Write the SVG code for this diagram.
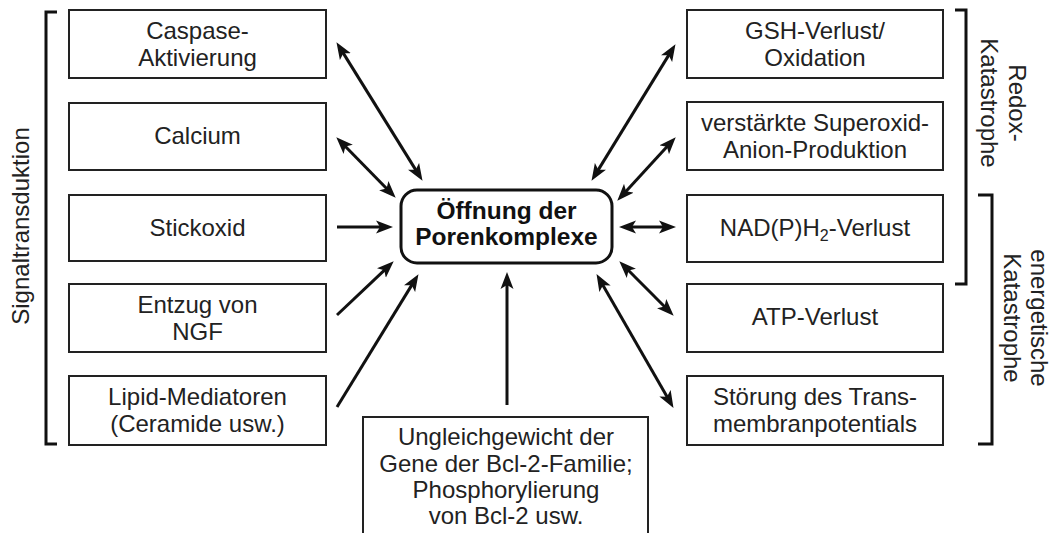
<svg xmlns="http://www.w3.org/2000/svg" width="1052" height="533" viewBox="0 0 1052 533">
<style>
.box{fill:#fff;stroke:#222;stroke-width:2}
.t{font-family:"Liberation Sans",Arial,sans-serif;font-size:24px;fill:#222;text-anchor:middle}
.b{font-weight:bold;fill:#111;font-size:24.5px}
.con{stroke:#111;stroke-width:3;fill:none}
.br{stroke:#111;stroke-width:3;fill:none}
</style>
<defs>
<marker id="ah" markerUnits="userSpaceOnUse" markerWidth="18" markerHeight="14" viewBox="0 0 18 14" refX="5" refY="7" orient="auto-start-reverse">
<path d="M0,0.5 L17,7 L0,13.5 L4,7 Z" fill="#111"/>
</marker>
</defs>
<rect width="1052" height="533" fill="#fff"/>

<g id="brackets">
<path class="br" d="M57,12 H46 V444 H57"/>
<path class="br" d="M955,10 H966 V284 H955"/>
<path class="br" d="M978,195 H992 V444 H978"/>
<text class="t" transform="translate(29,226) rotate(-90)">Signaltransduktion</text>
<text class="t" transform="translate(1009,103) rotate(90)"><tspan x="0" y="0">Redox-</tspan><tspan x="0" y="28">Katastrophe</tspan></text>
<text class="t" transform="translate(1031,318) rotate(90)"><tspan x="0" y="0">energetische</tspan><tspan x="0" y="27">Katastrophe</tspan></text>
</g>

<g id="n-caspase">
<rect class="box" x="69" y="10" width="257" height="68"/>
<text class="t" x="197.5" y="39">Caspase-</text>
<text class="t" x="197.5" y="66">Aktivierung</text>
</g>
<g id="n-calcium">
<rect class="box" x="69" y="103" width="257" height="67"/>
<text class="t" x="197.5" y="144">Calcium</text>
</g>
<g id="n-stickoxid">
<rect class="box" x="69" y="195" width="257" height="66"/>
<text class="t" x="197.5" y="236">Stickoxid</text>
</g>
<g id="n-ngf">
<rect class="box" x="69" y="284" width="257" height="68"/>
<text class="t" x="197.5" y="313">Entzug von</text>
<text class="t" x="197.5" y="340">NGF</text>
</g>
<g id="n-lipid">
<rect class="box" x="69" y="376" width="257" height="69"/>
<text class="t" x="197.5" y="405">Lipid-Mediatoren</text>
<text class="t" x="197.5" y="432">(Ceramide usw.)</text>
</g>

<g id="n-gsh">
<rect class="box" x="687" y="10" width="256" height="68"/>
<text class="t" x="815" y="39">GSH-Verlust/</text>
<text class="t" x="815" y="66">Oxidation</text>
</g>
<g id="n-superoxid">
<rect class="box" x="687" y="102" width="256" height="68"/>
<text class="t" x="815" y="131">verstärkte Superoxid-</text>
<text class="t" x="815" y="158">Anion-Produktion</text>
</g>
<g id="n-nad">
<rect class="box" x="687" y="195" width="256" height="67"/>
<text class="t" x="815" y="236">NAD(P)H<tspan font-size="16" dy="5">2</tspan><tspan dy="-5">-Verlust</tspan></text>
</g>
<g id="n-atp">
<rect class="box" x="687" y="284" width="256" height="68"/>
<text class="t" x="815" y="325">ATP-Verlust</text>
</g>
<g id="n-stoerung">
<rect class="box" x="687" y="376" width="256" height="69"/>
<text class="t" x="815" y="405">Störung des Trans-</text>
<text class="t" x="815" y="432">membranpotentials</text>
</g>

<g id="n-center">
<rect x="401" y="190" width="211" height="73" rx="16" ry="16" fill="#fff" stroke="#111" stroke-width="3"/>
<text class="t b" x="506.5" y="219">Öffnung der</text>
<text class="t b" x="506.5" y="245">Porenkomplexe</text>
</g>

<g id="n-bcl2">
<path class="box" d="M363,535 V417 H648 V535"/>
<text class="t" x="506" y="445">Ungleichgewicht der</text>
<text class="t" x="506" y="472">Gene der Bcl-2-Familie;</text>
<text class="t" x="506" y="498">Phosphorylierung</text>
<text class="t" x="506" y="524">von Bcl-2 usw.</text>
</g>

<g id="connectors">
<line class="con" x1="342.8" y1="52.4" x2="416.2" y2="170.6" marker-start="url(#ah)" marker-end="url(#ah)"/>
<line class="con" x1="344.7" y1="145.8" x2="387.3" y2="189.2" marker-start="url(#ah)" marker-end="url(#ah)"/>
<line class="con" x1="337" y1="227" x2="381" y2="227" marker-end="url(#ah)"/>
<line class="con" x1="337" y1="315" x2="385" y2="269.6" marker-end="url(#ah)"/>
<line class="con" x1="337" y1="407" x2="412.2" y2="284.4" marker-end="url(#ah)"/>
<line class="con" x1="507" y1="405" x2="507" y2="284" marker-end="url(#ah)"/>
<line class="con" x1="602.5" y1="284.5" x2="667.5" y2="397.5" marker-start="url(#ah)" marker-end="url(#ah)"/>
<line class="con" x1="627.8" y1="269.8" x2="665.2" y2="307.2" marker-start="url(#ah)" marker-end="url(#ah)"/>
<line class="con" x1="631" y1="227" x2="664" y2="227" marker-start="url(#ah)" marker-end="url(#ah)"/>
<line class="con" x1="625.4" y1="191.9" x2="667.6" y2="146.1" marker-start="url(#ah)" marker-end="url(#ah)"/>
<line class="con" x1="597.8" y1="170.6" x2="669.2" y2="54.4" marker-start="url(#ah)" marker-end="url(#ah)"/>
</g>
</svg>
